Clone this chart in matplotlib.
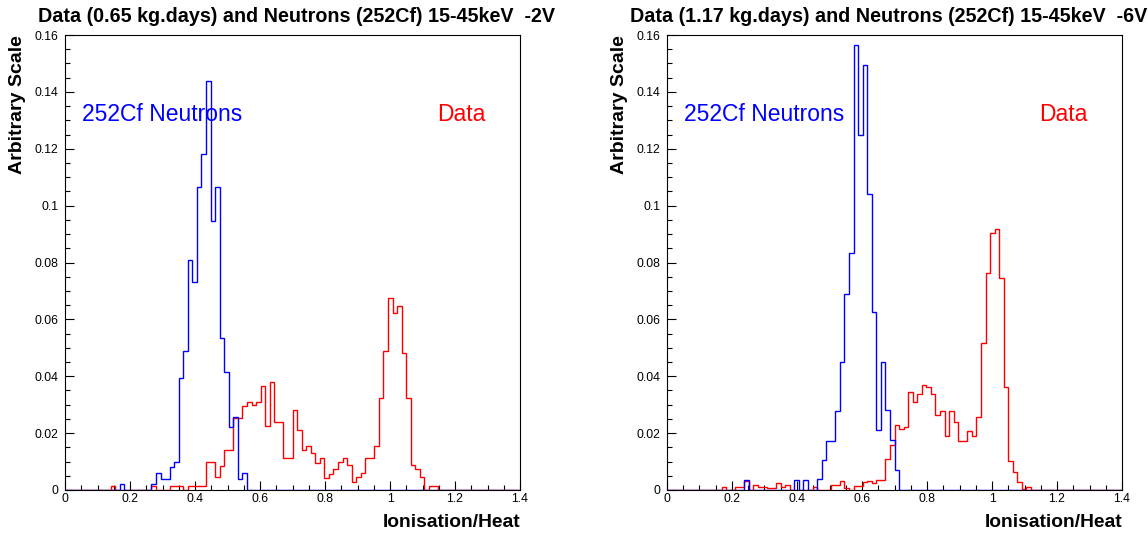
import numpy as np
import matplotlib
matplotlib.use("Agg")
import matplotlib.pyplot as plt
from matplotlib.ticker import MultipleLocator, FuncFormatter

plt.rcParams['font.family'] = ['Liberation Sans', 'DejaVu Sans']

# Histogram binning: 100 bins from 0 to 1.4
bin_lo, bin_hi, n_bins = 0.0, 1.4, 100

left_title = "Data (0.65 kg.days) and Neutrons (252Cf) 15-45keV  -2V"
right_title = "Data (1.17 kg.days) and Neutrons (252Cf) 15-45keV  -6V"

left_neutrons = [
    0, 0, 0, 0, 0, 0, 0, 0, 0, 0,
    0, 0, 0.002, 0, 0, 0, 0, 0, 0, 0.002,
    0.006, 0.004, 0.004, 0.008, 0.010, 0.0395, 0.049, 0.081, 0.073, 0.1067,
    0.118, 0.144, 0.0946, 0.1065, 0.0536, 0.0414, 0.022, 0.0258, 0.004, 0.006,
    0, 0, 0, 0, 0, 0, 0, 0, 0, 0,
    0, 0, 0, 0, 0, 0, 0, 0, 0, 0,
    0, 0, 0, 0, 0, 0, 0, 0, 0, 0,
    0, 0, 0, 0, 0, 0, 0, 0, 0, 0,
    0, 0, 0, 0, 0, 0, 0, 0, 0, 0,
    0, 0, 0, 0, 0, 0, 0, 0, 0, 0,
]
left_data = [
    0, 0, 0, 0, 0, 0, 0, 0, 0, 0,
    0.0015, 0, 0, 0, 0, 0, 0, 0, 0, 0.0013,
    0, 0, 0, 0.0014, 0.0014, 0.0014, 0, 0.0014, 0.0014, 0.0014,
    0.0014, 0.0099, 0.0099, 0.0045, 0.0085, 0.0142, 0.0142, 0.0254, 0.0254, 0.0297,
    0.031, 0.0298, 0.031, 0.0367, 0.0225, 0.038, 0.024, 0.024, 0.0111, 0.0111,
    0.0283, 0.021, 0.0141, 0.0154, 0.0129, 0.0096, 0.0111, 0.0041, 0.0058, 0.0074,
    0.0098, 0.0111, 0.0087, 0.0029, 0.0045, 0.006, 0.0114, 0.0114, 0.0156, 0.0325,
    0.049, 0.0674, 0.0621, 0.0647, 0.0482, 0.0325, 0.0087, 0.0073, 0.0044, 0,
    0.0014, 0.0014, 0, 0, 0, 0, 0, 0, 0, 0,
    0, 0, 0, 0, 0, 0, 0, 0, 0, 0,
]
right_neutrons = [
    0, 0, 0, 0, 0, 0, 0, 0, 0, 0,
    0, 0, 0, 0, 0, 0, 0, 0.0035, 0, 0,
    0, 0, 0, 0, 0, 0, 0, 0, 0.0035, 0,
    0.0035, 0, 0, 0.004, 0.0105, 0.0173, 0.0173, 0.0279, 0.045, 0.069,
    0.0835, 0.1565, 0.1248, 0.1494, 0.104, 0.0625, 0.021, 0.0451, 0.0281, 0.0176,
    0.007, 0, 0, 0, 0, 0, 0, 0, 0, 0,
    0, 0, 0, 0, 0, 0, 0, 0, 0, 0,
    0, 0, 0, 0, 0, 0, 0, 0, 0, 0,
    0, 0, 0, 0, 0, 0, 0, 0, 0, 0,
    0, 0, 0, 0, 0, 0, 0, 0, 0, 0,
]
right_data = [
    0, 0, 0, 0, 0, 0, 0, 0, 0, 0,
    0, 0, 0.001, 0, 0, 0.0012, 0.0012, 0.003, 0, 0.0018,
    0.001, 0.001, 0.0007, 0.0007, 0.0026, 0.0012, 0.0018, 0, 0, 0,
    0, 0, 0.001, 0, 0, 0, 0.0018, 0.0018, 0.0033, 0.0008,
    0, 0.0015, 0.0015, 0.0028, 0.003, 0.0023, 0.0035, 0.0035, 0.0108, 0.016,
    0.023, 0.0215, 0.0222, 0.0345, 0.031, 0.0336, 0.0368, 0.0362, 0.0336, 0.0264,
    0.0279, 0.019, 0.0279, 0.024, 0.0173, 0.0173, 0.0206, 0.019, 0.0256, 0.0516,
    0.0762, 0.0903, 0.0918, 0.0745, 0.0361, 0.0102, 0.0064, 0.0028, 0.0005, 0.0011,
    0, 0, 0, 0, 0, 0, 0, 0, 0, 0,
    0, 0, 0, 0, 0, 0, 0, 0, 0, 0,
]

edges = np.linspace(bin_lo, bin_hi, n_bins + 1)

W, H = 1148, 535
fig = plt.figure(figsize=(W / 100, H / 100), dpi=100)

def fmt(v, pos):
    return "%g" % round(v, 4)

panels = [
    (65, left_title, 38, left_neutrons, left_data),
    (667, right_title, 630, right_neutrons, right_data),
]

for x0, title, tx, neut, data in panels:
    ax = fig.add_axes([x0 / W, (H - 490) / H, 455 / W, 455 / H])
    ax.stairs(data, edges, color='#ff0000', lw=1.0, baseline=None, zorder=3)
    ax.stairs(neut, edges, color='#0000ff', lw=1.0, baseline=None, zorder=4)
    ax.set_xlim(0, 1.4)
    ax.set_ylim(0, 0.16)
    ax.xaxis.set_major_locator(MultipleLocator(0.2))
    ax.xaxis.set_minor_locator(MultipleLocator(0.05))
    ax.yaxis.set_major_locator(MultipleLocator(0.02))
    ax.yaxis.set_minor_locator(MultipleLocator(0.005))
    ax.xaxis.set_major_formatter(FuncFormatter(fmt))
    ax.yaxis.set_major_formatter(FuncFormatter(fmt))
    ax.tick_params(which='both', direction='in', top=False, right=False,
                   labelsize=8.8, color='black', width=0.8)
    ax.tick_params(which='major', length=6.5)
    ax.tick_params(which='minor', length=3.4)
    ax.tick_params(axis='y', which='major', pad=5)
    ax.tick_params(axis='x', which='major', pad=2)
    for s in ax.spines.values():
        s.set_linewidth(0.8)
        s.set_color('black')
    ax.text(0.052, 0.1322, "252Cf Neutrons", color='#0000ff', fontsize=16.5,
            va='center', ha='left')
    ax.text(1.145, 0.1322, "Data", color='#ff0000', fontsize=16.5,
            va='center', ha='left')
    ax.set_xlabel("Ionisation/Heat", fontsize=13.9, fontweight='bold')
    ax.xaxis.set_label_coords(1.0, -0.053)
    ax.xaxis.label.set_ha('right')
    ax.set_ylabel("Arbitrary Scale", fontsize=14.0, fontweight='bold')
    ax.yaxis.set_label_coords(-47 / 455, 1.0)
    ax.yaxis.label.set_va('center')
    ax.yaxis.label.set_ha('right')
    fig.text(tx / W, 1 - 17 / H, title, fontsize=14.2, fontweight='bold',
             ha='left', va='center')

fig.savefig("out.png", dpi=100)
